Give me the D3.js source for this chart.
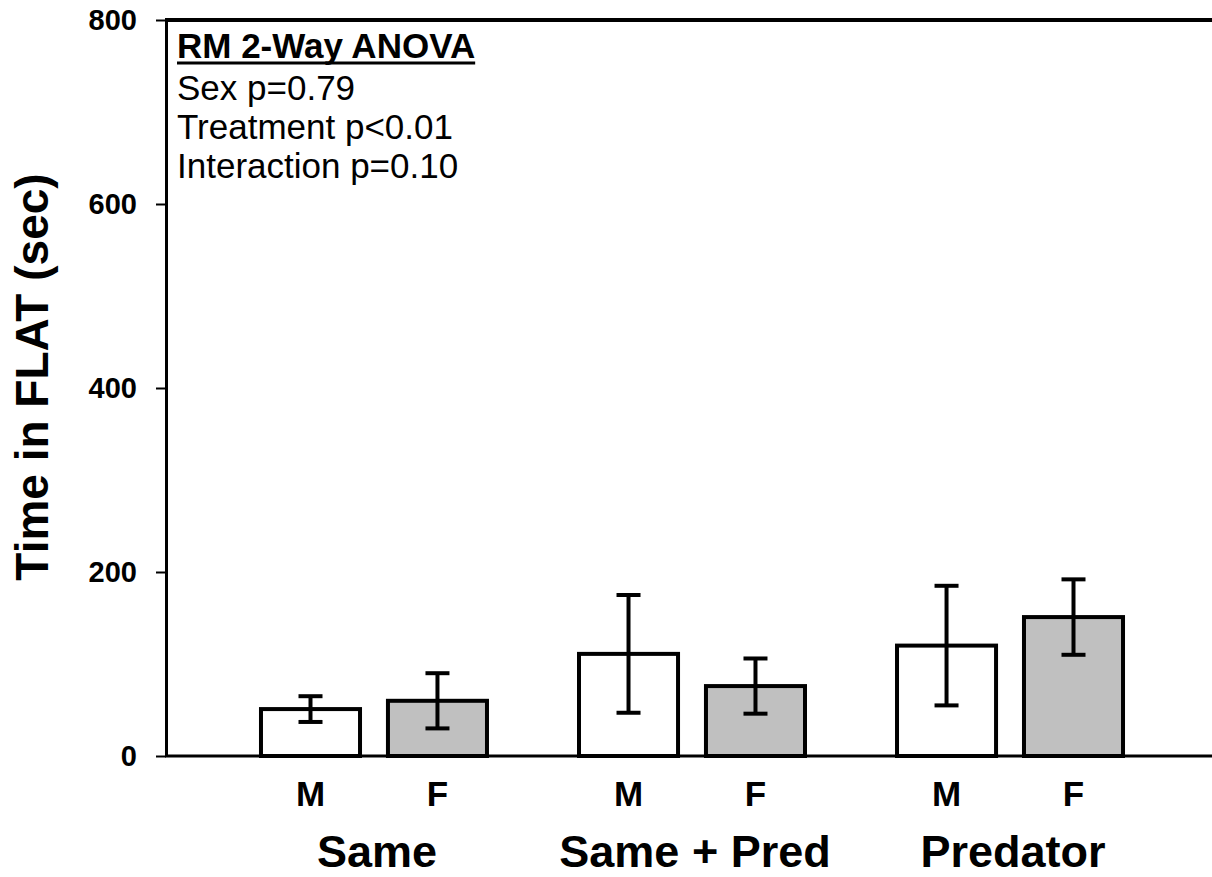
<!DOCTYPE html>
<html>
<head>
<meta charset="utf-8">
<script src="https://cdn.jsdelivr.net/npm/d3@7"></script>
<style>
  body { margin: 0; background: #fff; }
  svg { display: block; font-family: "Liberation Sans", Arial, sans-serif; }
</style>
</head>
<body>
<script>
//chart data
var groups = ["Same", "Same + Pred", "Predator"];
var sexes = ["M", "F"];
var maleMeans = [51, 111, 120];
var maleErr = [14, 64, 65];
var femaleMeans = [60, 76, 151];
var femaleErr = [30, 30, 41];
var yTicks = [0, 200, 400, 600, 800];
var statLines = ["Sex p=0.79", "Treatment p<0.01", "Interaction p=0.10"];

window.onload = drawChart();

function drawChart(){
    var width = 1212, height = 877;
    var left = 166, right = 1218, top = 20, bottom = 756;

    var svg = d3.select("body").append("svg")
        .attr("width", width)
        .attr("height", height);

    //one row per bar
    var rows = [];
    groups.forEach(function(g, i){
        rows.push({group: g, sex: "M", mean: maleMeans[i], err: maleErr[i]});
        rows.push({group: g, sex: "F", mean: femaleMeans[i], err: femaleErr[i]});
    });

    var x = d3.scalePoint().domain(groups).range([left, right]).padding(0.654);
    var sub = d3.scaleBand().domain(sexes).range([-113, 113]).paddingInner(0.22);
    var y = d3.scaleLinear().domain([0, 800]).range([bottom, top]);
    var fill = d3.scaleOrdinal().domain(sexes).range(["#ffffff", "#c0c0c0"]);

    //bars
    svg.selectAll(".bar")
        .data(rows)
        .enter()
        .append("rect")
        .attr("class", "bar")
        .attr("x", function(d){ return x(d.group) + sub(d.sex); })
        .attr("width", sub.bandwidth())
        .attr("y", function(d){ return y(d.mean); })
        .attr("height", function(d){ return y(0) - y(d.mean); })
        .style("fill", function(d){ return fill(d.sex); })
        .style("stroke", "#000")
        .style("stroke-width", 4);

    //error bars
    var cx = function(d){ return x(d.group) + sub(d.sex) + sub.bandwidth() / 2; };
    var eb = svg.selectAll(".err").data(rows).enter().append("g").attr("class", "err")
        .style("stroke", "#000").style("stroke-width", 4);
    eb.append("line")
        .attr("x1", cx).attr("x2", cx)
        .attr("y1", function(d){ return y(d.mean + d.err); })
        .attr("y2", function(d){ return y(d.mean - d.err); });
    [1, -1].forEach(function(s){
        eb.append("line")
            .attr("x1", function(d){ return cx(d) - 12; })
            .attr("x2", function(d){ return cx(d) + 12; })
            .attr("y1", function(d){ return y(d.mean + s * d.err); })
            .attr("y2", function(d){ return y(d.mean + s * d.err); });
    });

    //y axis
    var yAxis = svg.append("g")
        .attr("transform", "translate(" + left + ",0)")
        .call(d3.axisLeft(y).tickValues(yTicks).tickSize(10).tickSizeOuter(0).tickPadding(19));
    yAxis.select(".domain").style("stroke-width", 3);
    yAxis.selectAll(".tick line").style("stroke-width", 2);
    yAxis.selectAll(".tick text")
        .style("font-size", "29px")
        .style("font-weight", "bold")
        .style("fill", "#000");

    //bottom axis and top frame
    svg.append("line")
        .attr("x1", left - 1).attr("x2", width)
        .attr("y1", y(0)).attr("y2", y(0))
        .style("stroke", "#000").style("stroke-width", 3);
    svg.append("line")
        .attr("x1", left - 1).attr("x2", width)
        .attr("y1", y(800)).attr("y2", y(800))
        .style("stroke", "#000").style("stroke-width", 4);

    //sex labels
    svg.selectAll(".sexLabel")
        .data(rows)
        .enter()
        .append("text")
        .attr("class", "sexLabel")
        .attr("x", cx)
        .attr("y", 806)
        .attr("text-anchor", "middle")
        .style("font-size", "35px")
        .style("font-weight", "bold")
        .text(function(d){ return d.sex; });

    //group labels
    svg.selectAll(".groupLabel")
        .data(groups)
        .enter()
        .append("text")
        .attr("class", "groupLabel")
        .attr("x", function(d){ return x(d) + 3; })
        .attr("y", 867)
        .attr("text-anchor", "middle")
        .style("font-size", "45px")
        .style("font-weight", "bold")
        .text(function(d){ return d; });

    //y axis title
    svg.append("text")
        .attr("transform", "translate(48,377) rotate(-90)")
        .attr("text-anchor", "middle")
        .style("font-size", "46px")
        .style("font-weight", "bold")
        .text("Time in FLAT (sec)");

    //stats box
    var title = svg.append("text")
        .attr("x", 177).attr("y", 58)
        .style("font-size", "35px")
        .style("font-weight", "bold")
        .text("RM 2-Way ANOVA");
    var tw = title.node().getComputedTextLength();
    svg.append("line")
        .attr("x1", 177).attr("x2", 177 + tw)
        .attr("y1", 63).attr("y2", 63)
        .style("stroke", "#000").style("stroke-width", 3);

    svg.selectAll(".stat")
        .data(statLines)
        .enter()
        .append("text")
        .attr("class", "stat")
        .attr("x", 177)
        .attr("y", function(d, i){ return 100 + i * 39; })
        .style("font-size", "35px")
        .text(function(d){ return d; });
}
</script>
</body>
</html>
